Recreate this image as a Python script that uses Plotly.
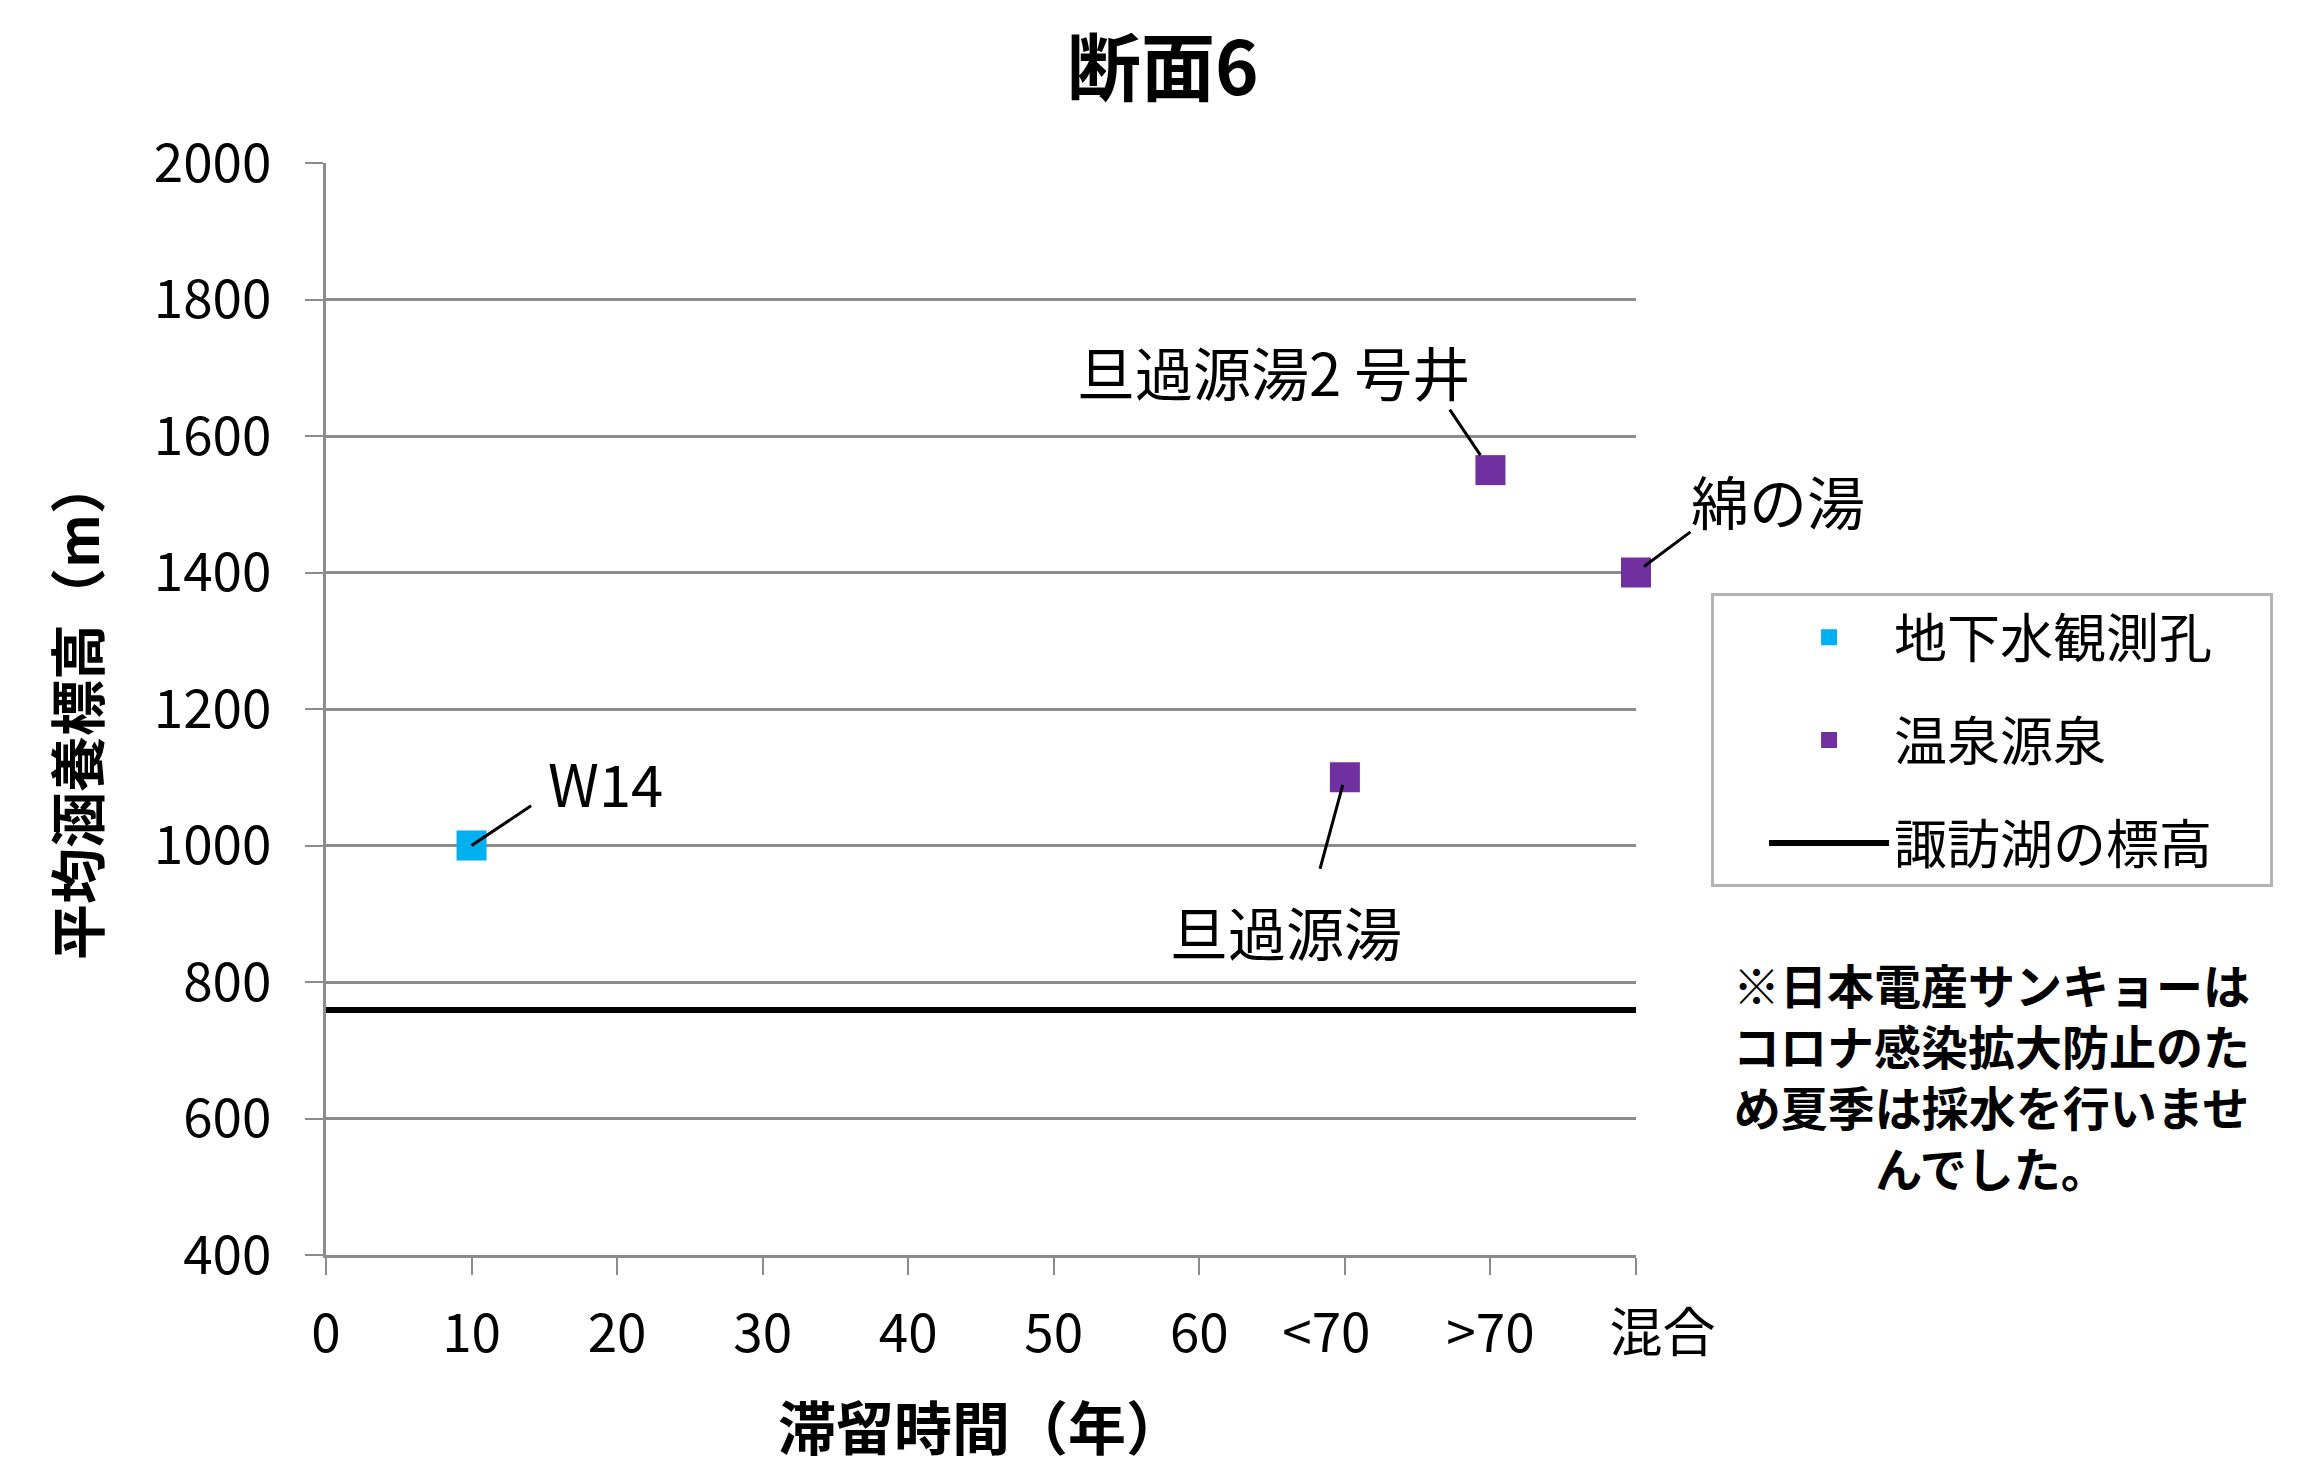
import plotly.graph_objects as go

# ---- data ----
x_tickvals = [0, 10, 20, 30, 40, 50, 60, 70, 80, 90]
x_ticktext = ["0", "10", "20", "30", "40", "50", "60", "<70\u2002\u2009", ">70", "\u3000混合"]

well_name = "地下水観測孔"
well_x = [10]
well_y = [1000]
well_labels = ["W14"]

spring_name = "温泉源泉"
spring_x = [70, 80, 90]
spring_y = [1100, 1550, 1400]
spring_labels = ["旦過源湯", "旦過源湯2 号井", "綿の湯"]

lake_name = "諏訪湖の標高"
lake_x = [0, 90]
lake_y = [759, 759]

y_range = [400, 2000]
y_dtick = 200

# callout styling (px, screen): text centre offset, leader tail offset, head standoff
label_style = {
    "W14": ((134, -64), (60, -40), 0),
    "旦過源湯": ((-59, 154), (-25, 92), 8),
    "旦過源湯2 号井": ((-217, -99), (-41, -61), 18),
    "綿の湯": ((142, -73), (55, -41), 10),
}

FONT = "Noto Sans CJK JP"
CYAN = "#00B0F0"
PURPLE = "#7030A0"
GRID = "#8c8c8c"
PAD = "\u3000"

fig = go.Figure()
fig.add_trace(go.Scatter(
    x=well_x, y=well_y, mode="markers", name=well_name + PAD, legendgroup="a",
    marker=dict(symbol="square", size=30, color=CYAN),
    cliponaxis=False,
))
fig.add_trace(go.Scatter(
    x=spring_x, y=spring_y, mode="markers", name=spring_name + PAD, legendgroup="b",
    marker=dict(symbol="square", size=30, color=PURPLE),
    cliponaxis=False,
))
fig.add_trace(go.Scatter(
    x=lake_x, y=lake_y, mode="lines", name=lake_name + PAD, legendgroup="c",
    line=dict(color="black", width=6),
))

annots = []
for xs, ys, labs in [(well_x, well_y, well_labels), (spring_x, spring_y, spring_labels)]:
    for xv, yv, lab in zip(xs, ys, labs):
        (tx, ty), (lx, ly), so = label_style[lab]
        # leader line
        annots.append(dict(
            x=xv, y=yv, xref="x", yref="y", text="", showarrow=True,
            arrowhead=0, arrowwidth=3, arrowcolor="black", ax=lx, ay=ly,
            standoff=so, startstandoff=0, borderpad=0,
        ))
        # label text
        annots.append(dict(
            x=xv, y=yv, xref="x", yref="y", text=lab, showarrow=False,
            xshift=tx, yshift=-ty, xanchor="center", yanchor="middle",
            font=dict(family=FONT, size=58, color="black"),
        ))

annots.append(dict(
    x=1.271, y=0.165, xref="paper", yref="paper", showarrow=False,
    text="※日本電産サンキョーは<br>コロナ感染拡大防止のた<br>め夏季は採水を行いませ<br>んでした。",
    align="center", xanchor="center", yanchor="middle",
    font=dict(family=FONT, size=47, color="black", weight="bold"),
))

fig.update_layout(
    width=2302, height=1470,
    margin=dict(l=318, r=674, t=155, b=223),
    paper_bgcolor="white", plot_bgcolor="white",
    font=dict(family=FONT, color="black"),
    title=dict(text="<b>断面6</b>", x=0.5017, xanchor="center", y=0.9585, yanchor="middle",
               font=dict(family=FONT, size=74, color="black")),
    showlegend=True,
    legend=dict(
        x=1.0573, y=0.606, xanchor="left", yanchor="top",
        bordercolor="#b3b3b3", borderwidth=3, bgcolor="white",
        font=dict(family=FONT, size=53, color="black"),
        tracegroupgap=31, itemwidth=120, indentation=50,
    ),
    annotations=annots,
)

fig.update_xaxes(
    range=[0, 90], tickmode="array", tickvals=x_tickvals, ticktext=x_ticktext,
    showgrid=False, showline=True, linecolor=GRID, linewidth=3,
    ticks="outside", ticklen=17, tickwidth=2, tickcolor=GRID,
    tickfont=dict(family=FONT, size=53, color="black"), ticklabelstandoff=13,
    zeroline=False,
    title=dict(text="<b>滞留時間（年）</b>", standoff=44,
               font=dict(family=FONT, size=58, color="black")),
)
fig.update_yaxes(
    range=y_range, dtick=y_dtick, tick0=400,
    showgrid=True, gridcolor=GRID, gridwidth=3,
    showline=True, linecolor=GRID, linewidth=3,
    ticks="outside", ticklen=18, tickwidth=2, tickcolor=GRID,
    tickfont=dict(family=FONT, size=53, color="black"), ticklabelstandoff=23,
    zeroline=False,
    title=dict(text="<b>平均涵養標高（m）</b>", standoff=37,
               font=dict(family=FONT, size=56, color="black")),
)

fig.write_html("out.html")
